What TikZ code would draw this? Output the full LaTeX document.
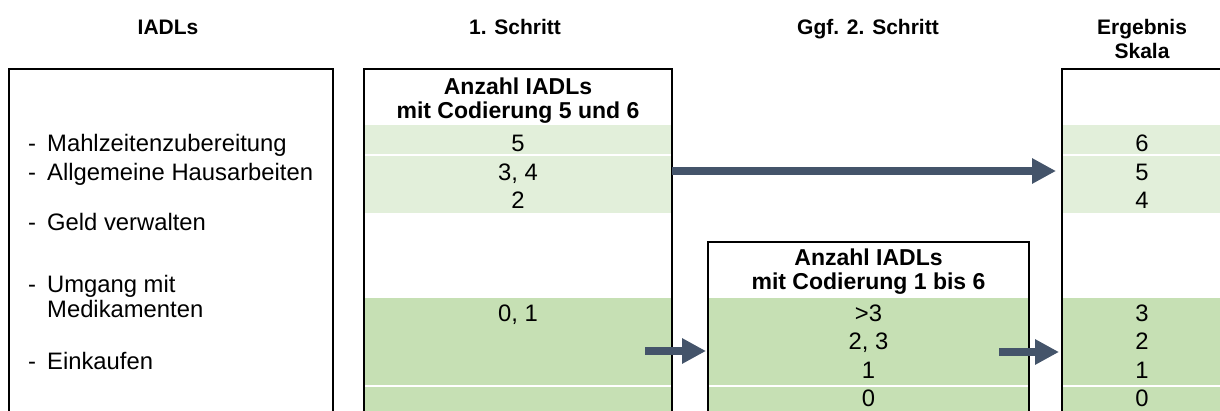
\documentclass[tikz,border=0pt]{standalone}
\usepackage{fontspec}
\setmainfont{Liberation Sans}
\usetikzlibrary{arrows.meta}
\definecolor{lightgreen}{HTML}{E2EFDA}
\definecolor{midgreen}{HTML}{C6E0B4}
\definecolor{arrowblue}{HTML}{44546A}

\begin{document}
\begin{tikzpicture}[x=1pt,y=-1pt,
  body/.style={font=\fontsize{23.8}{24}\selectfont, inner sep=0pt, text height=17pt, text depth=0pt},
  bodylines/.style={font=\fontsize{23.8}{25}\selectfont, inner sep=0pt, align=left},
  head/.style={font=\fontsize{21}{24}\selectfont\bfseries, inner sep=0pt, align=center},
  boxhead/.style={font=\fontsize{23}{24}\selectfont\bfseries, inner sep=0pt, align=center},
  frame/.style={line width=1.3pt, black},
  sep/.style={white, line width=1.2pt},
  flow/.style={arrowblue, line width=8pt, -{Triangle[length=24pt,width=24pt]}}
]
\useasboundingbox (0,0) rectangle (1220,411);

% green bands
\fill[lightgreen] (364,125) rectangle (672,213);
\fill[lightgreen] (1062,125) rectangle (1220,213);
\fill[midgreen] (364,298) rectangle (672,411);
\fill[midgreen] (708,298) rectangle (1029,411);
\fill[midgreen] (1062,298) rectangle (1220,411);
\draw[sep] (364,155) -- (672,155);
\draw[sep] (1062,155) -- (1220,155);
\draw[sep] (364,386) -- (672,386);
\draw[sep] (708,386) -- (1029,386);
\draw[sep] (1062,386) -- (1220,386);

% open-bottom frames
\draw[frame] (9,412) -- (9,69) -- (333,69) -- (333,412);
\draw[frame] (364,412) -- (364,69) -- (672,69) -- (672,412);
\draw[frame] (708,412) -- (708,242) -- (1029,242) -- (1029,412);
\draw[frame] (1062,412) -- (1062,69) -- (1222,69);

% column headings
\node[head, anchor=north] (hIADL) at (168,19.5) {IADLs};
\node[head, anchor=north] (hS1) at (515,19.5) {1. Schritt};
\node[head, anchor=north] (hS2) at (868,19.5) {Ggf. 2. Schritt};
\node[head, anchor=north] (hRes) at (1142,19.5) {Ergebnis\\Skala};

% IADL list
\node[body, anchor=west] (d1) at (28,143) {-};
\node[body, anchor=west] (t1) at (47,143) {Mahlzeitenzubereitung};
\node[body, anchor=west] (d2) at (28,172) {-};
\node[body, anchor=west] (t2) at (47,172) {Allgemeine Hausarbeiten};
\node[body, anchor=west] (d3) at (28,222) {-};
\node[body, anchor=west] (t3) at (47,222) {Geld verwalten};
\node[body, anchor=west] (d4) at (28,284) {-};
\node[bodylines, anchor=north west] (t4) at (47,275.5) {Umgang mit\\Medikamenten};
\node[body, anchor=west] (d5) at (28,361) {-};
\node[body, anchor=west] (t5) at (47,361) {Einkaufen};

% step 1
\node[boxhead, anchor=north] (s1head) at (518,77.5) {Anzahl IADLs\\mit Codierung 5 und 6};
\node[body] (s1a) at (518,143) {5};
\node[body] (s1b) at (518,172) {3, 4};
\node[body] (s1c) at (518,200) {2};
\node[body] (s1d) at (518,313) {0, 1};

% step 2
\node[boxhead, anchor=north] (s2head) at (868.5,248.5) {Anzahl IADLs\\mit Codierung 1 bis 6};
\node[body] (s2a) at (868.5,313) {>3};
\node[body] (s2b) at (868.5,341) {2, 3};
\node[body] (s2c) at (868.5,370) {1};
\node[body] (s2d) at (868.5,398) {0};

% result scale
\node[body] (r6) at (1142,143) {6};
\node[body] (r5) at (1142,172) {5};
\node[body] (r4) at (1142,200) {4};
\node[body] (r3) at (1142,313) {3};
\node[body] (r2) at (1142,341) {2};
\node[body] (r1) at (1142,370) {1};
\node[body] (r0) at (1142,398) {0};

% arrows
\coordinate (a1from) at (672,171);
\coordinate (a1to) at (1056,171);
\coordinate (a2from) at (645,351);
\coordinate (a2to) at (706,351);
\coordinate (a3from) at (999,352);
\coordinate (a3to) at (1059,352);
\draw[flow] (a1from) -- (a1to);
\draw[flow] (a2from) -- (a2to);
\draw[flow] (a3from) -- (a3to);
\end{tikzpicture}
\end{document}
